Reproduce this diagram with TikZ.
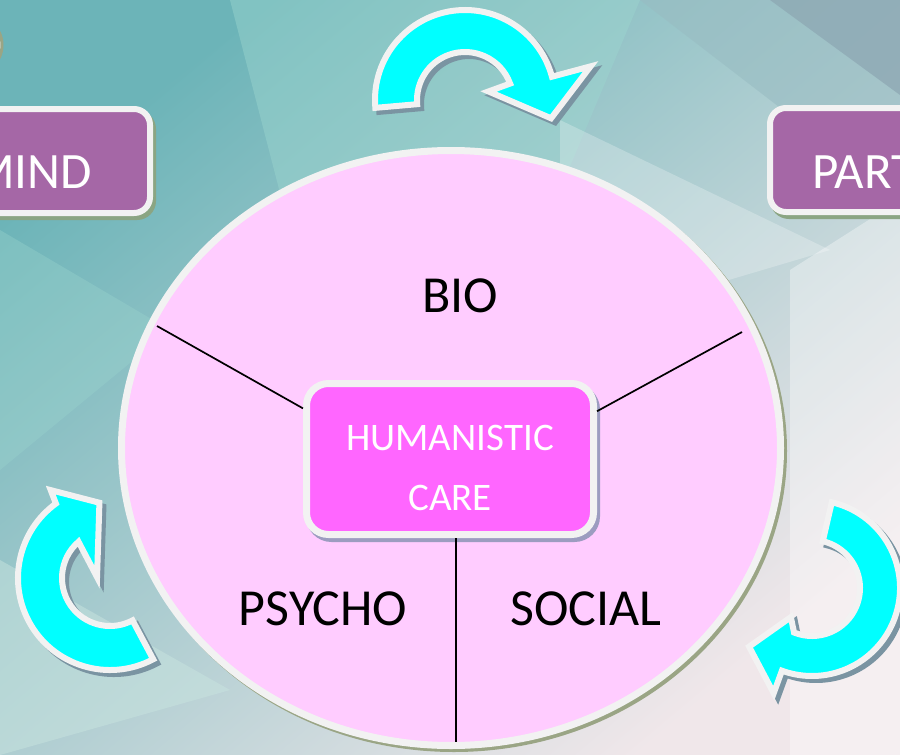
\documentclass[tikz,border=0pt]{standalone}
\usepackage{fontspec}
\setmainfont{Carlito}
\usetikzlibrary{shadows}

\definecolor{tealdark}{HTML}{6CB4B8}
\definecolor{tealgrey}{HTML}{98BCC2}
\definecolor{tealpale}{HTML}{C8E4DF}
\definecolor{pinkpale}{HTML}{F0E7EA}
\definecolor{tealmid}{HTML}{9CD6CF}
\definecolor{slate}{HTML}{8CA6B2}
\definecolor{rimwhite}{HTML}{F2F2F2}
\definecolor{ovalpink}{HTML}{FFCCFF}
\definecolor{carepink}{HTML}{FF66FF}
\definecolor{boxpurple}{HTML}{A567A6}
\definecolor{arrowcyan}{HTML}{00FFFF}
\definecolor{olivegrey}{HTML}{9AA585}
\definecolor{boxshade}{HTML}{8BA583}
\definecolor{careshade}{HTML}{9C9CC0}
\definecolor{arrowshade}{HTML}{7A94A2}

\tikzset{
    wheel/.style={draw=rimwhite, line width=7pt, fill=ovalpink,
        drop shadow={shadow xshift=3pt, shadow yshift=-3pt, fill=olivegrey,
            draw=olivegrey, line width=7pt, opacity=1}},
    sidebox/.style={draw=rimwhite, line width=6pt, fill=boxpurple,
        rounded corners=16pt, minimum width=230pt, minimum height=104pt,
        drop shadow={shadow xshift=3pt, shadow yshift=-4pt, fill=boxshade,
            draw=boxshade, line width=6pt, opacity=1}},
    carebox/.style={draw=rimwhite, line width=7pt, fill=carepink,
        rounded corners=22pt, minimum width=287pt, minimum height=151pt,
        drop shadow={shadow xshift=3pt, shadow yshift=-4pt, fill=careshade,
            draw=careshade, line width=7pt, opacity=1}},
    turnarrow/.style={fill=arrowcyan, draw=rimwhite, line width=6pt,
        drop shadow={shadow xshift=4pt, shadow yshift=-4pt, fill=arrowshade,
            draw=arrowshade, line width=6pt, opacity=1}},
    partword/.style={anchor=base, inner sep=0pt,
        font=\fontsize{52}{60}\selectfont},
    sideword/.style={inner sep=0pt, text=white,
        font=\fontsize{51}{60}\selectfont},
    careword/.style={anchor=base, inner sep=0pt, text=white,
        font=\fontsize{39}{46}\selectfont},
    divider/.style={line width=1.7pt, black}
}

\begin{document}
\begin{tikzpicture}[x=1pt, y=-1pt]

\useasboundingbox (0,0) rectangle (900,755);
\clip (0,0) rectangle (900,755);

% Background facets
\shade[top color=tealdark, middle color=tealmid!80!tealgrey, bottom color=pinkpale,
    shading angle=40] (0,0) rectangle (900,755);
\fill[tealdark, opacity=.45] (0,0) -- (280,0) -- (0,210) -- cycle;
\fill[tealmid, opacity=.45] (230,0) -- (640,0) -- (560,190) -- (300,270) -- cycle;
\fill[tealgrey, opacity=.6] (640,0) -- (900,0) -- (900,200) -- cycle;
\fill[slate, opacity=.7] (770,0) -- (900,0) -- (900,95) -- cycle;
\fill[white, opacity=.25] (560,120) -- (830,250) -- (560,330) -- cycle;
\fill[tealmid, opacity=.35] (0,230) -- (170,330) -- (0,470) -- cycle;
\fill[white, opacity=.35] (790,270) -- (900,200) -- (900,755) -- (790,755) -- cycle;
\fill[tealpale, opacity=.5] (0,560) -- (230,690) -- (0,755) -- cycle;

% Circle peeking in at the corner
\draw[draw=olivegrey, line width=3pt, fill=rimwhite] (-28,45) circle[radius=30];

% Wheel
\draw[wheel] (451,448) ellipse[x radius=329.5, y radius=297.5];

\coordinate (rimwest) at (157,326);
\coordinate (rimeast) at (742,332);
\coordinate (rimsouth) at (456,742);

% Centre box
\node[carebox] (care) at (450,459) {};
\node[careword] (humanistic) at (450,450) {HUMANISTIC};
\node[careword] (caretext) at (450,510) {CARE};

% Dividers
\draw[divider] (rimwest) -- (care.161);
\draw[divider] (rimeast) -- (care.18);
\draw[divider] ([xshift=6pt]care.south) -- (rimsouth);

% Sectors
\node[partword] (bio) at (460,312) {BIO};
\node[partword] (psycho) at (323,625) {PSYCHO};
\node[partword] (social) at (586,625) {SOCIAL};

% Side boxes
\node[sidebox] (mindbox) at (35,161) {};
\node[sideword, anchor=base east] (mind) at (92,188) {MIND};
\node[sidebox] (partbox) at (885,160) {};
\node[sideword, anchor=base west] (part) at (812,188) {PART};

% Turning arrows
\begin{scope}[shift={(465,100)}]
\draw[turnarrow] (175:90) arc[start angle=175, end angle=345, radius=90]
    -- (345:130) -- (12:88) -- (340:25) -- (340:48)
    arc[start angle=340, end angle=175, radius=48] -- cycle;
\end{scope}

\begin{scope}[shift={(812,588)}]
\draw[turnarrow] (-77:88) arc[start angle=-77, end angle=110, radius=88]
    -- (110:112) -- (137:86) -- (126:36) -- (112:48)
    arc[start angle=112, end angle=-77, radius=48] -- cycle;
\end{scope}

\begin{scope}[shift={(110,578)}]
\draw[turnarrow] (62:92) arc[start angle=62, end angle=234, radius=92]
    -- (236:106) -- (262:76) -- (184:13) -- (229:48)
    arc[start angle=229, end angle=62, radius=48] -- cycle;
\end{scope}

\end{tikzpicture}
\end{document}
